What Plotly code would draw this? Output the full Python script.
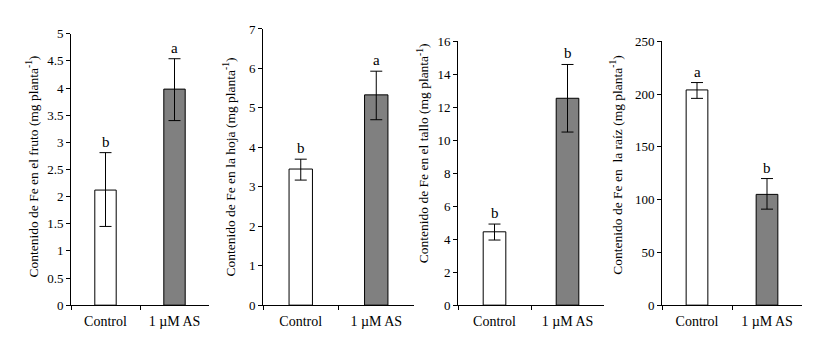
import plotly.graph_objects as go

categories = ["Control", "1 µM AS"]

fruto_mean = [2.12, 3.98]
fruto_err_plus = [0.69, 0.56]
fruto_err_minus = [0.67, 0.58]
fruto_letters = ["b", "a"]

hoja_mean = [3.45, 5.33]
hoja_err_plus = [0.25, 0.60]
hoja_err_minus = [0.28, 0.63]
hoja_letters = ["b", "a"]

tallo_mean = [4.45, 12.55]
tallo_err_plus = [0.47, 2.05]
tallo_err_minus = [0.50, 2.05]
tallo_letters = ["b", "b"]

raiz_mean = [204, 105]
raiz_err_plus = [7, 15]
raiz_err_minus = [8, 14]
raiz_letters = ["a", "b"]

titles = [
    "Contenido de Fe en el fruto (mg planta<sup>-1</sup>)",
    "Contenido de Fe en la hoja (mg planta<sup>-1</sup>)",
    "Contenido de Fe en el tallo (mg planta<sup>-1</sup>)",
    "Contenido de Fe en  la raíz (mg planta<sup>-1</sup>)",
]
y_ranges = [[0, 5], [0, 7], [0, 16], [0, 250]]
y_dticks = [0.5, 1, 2, 50]

W, H = 813, 338
# pixel layout: (x_left, x_right, y_top, y_bottom, title_x, title_y)
panels_px = [
    (71, 209, 28, 312, 33, 167),
    (263, 414, 23, 312, 230, 168),
    (458, 604, 36, 312, 423, 153),
    (662, 802, 36, 312, 617, 166),
]

series = [
    (fruto_mean, fruto_err_plus, fruto_err_minus, fruto_letters),
    (hoja_mean, hoja_err_plus, hoja_err_minus, hoja_letters),
    (tallo_mean, tallo_err_plus, tallo_err_minus, tallo_letters),
    (raiz_mean, raiz_err_plus, raiz_err_minus, raiz_letters),
]

FONT = "Liberation Serif"
bar_colors = ["#FFFFFF", "#808080"]
xs = list(range(len(categories)))

fig = go.Figure()
layout = dict(
    width=W, height=H,
    margin=dict(l=0, r=0, t=0, b=0),
    paper_bgcolor="white", plot_bgcolor="white",
    showlegend=False,
    font=dict(family=FONT, color="black", size=12),
)
annotations = []

for i, ((mean, ep, em, letters), (xl, xr, yt, yb, tx, ty)) in enumerate(zip(series, panels_px)):
    n = "" if i == 0 else str(i + 1)
    xa, ya = "x" + n, "y" + n
    fig.add_trace(go.Bar(
        x=xs, y=mean, width=0.31,
        marker=dict(color=bar_colors, line=dict(color="black", width=1)),
        error_y=dict(type="data", array=ep, arrayminus=em, color="black",
                     thickness=1, width=6, visible=True),
        xaxis=xa, yaxis=ya,
    ))
    layout["xaxis" + n] = dict(
        domain=[xl / W, xr / W], anchor=ya,
        range=[-0.5, 1.5], tickmode="array", tickvals=xs, ticktext=categories,
        ticks="", showline=True, linecolor="black", linewidth=1,
        showgrid=False, zeroline=False, ticklabelstandoff=3,
        tickfont=dict(size=14, family=FONT, color="black"),
        minor=dict(tickmode="array", tickvals=[-0.5, 0.5], ticks="outside",
                   ticklen=4, tickcolor="black", tickwidth=1),
    )
    layout["yaxis" + n] = dict(
        domain=[(H - yb) / H, (H - yt) / H], anchor=xa,
        range=y_ranges[i], dtick=y_dticks[i], tick0=0,
        ticks="outside", ticklen=4, tickcolor="black", tickwidth=1,
        showline=True, linecolor="black", linewidth=1,
        showgrid=False, zeroline=False,
        tickfont=dict(size=13, family=FONT, color="black"),
    )
    annotations.append(dict(
        text=titles[i], xref="paper", yref="paper",
        x=tx / W, y=(H - ty) / H, xanchor="center", yanchor="middle",
        textangle=-90, showarrow=False,
        font=dict(size=13.5, family=FONT, color="black"),
    ))
    for xv, m, e, lt in zip(xs, mean, ep, letters):
        annotations.append(dict(
            text=lt, x=xv, y=m + e, xref=xa, yref=ya,
            xanchor="center", yanchor="bottom", yshift=1,
            showarrow=False, font=dict(size=15, family=FONT, color="black"),
        ))

layout["annotations"] = annotations
fig.update_layout(**layout)
fig.write_html("out.html")
